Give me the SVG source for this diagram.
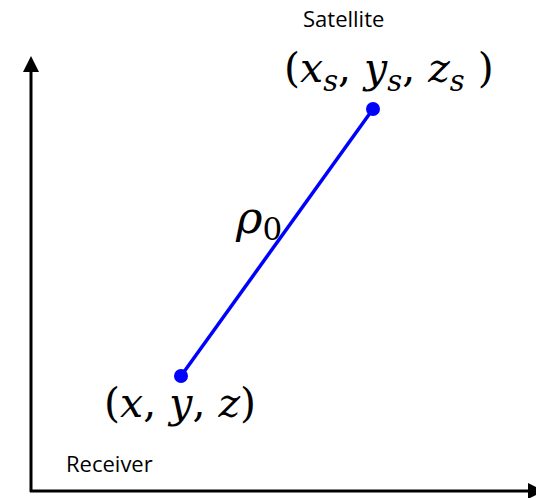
<svg xmlns="http://www.w3.org/2000/svg" width="536" height="498" viewBox="0 0 536 498">
<style>
.lbl{font-family:"Open Sans","Liberation Sans",sans-serif;font-size:22px;fill:#000}
.math{font-family:"DejaVu Serif","Liberation Serif",serif;font-size:41px;fill:#000}
.it{font-style:italic}
.sub{font-size:29px;font-style:italic}
.axis{stroke:#000;stroke-width:3;fill:none}
.link{stroke:#0000ff;stroke-width:3.5;fill:none}
</style>
<rect width="536" height="498" fill="#fff"/>
<g id="axes">
<line class="axis" x1="31" y1="492" x2="31" y2="68"/>
<polygon points="31,56 23,72 39,72" fill="#000"/>
<line class="axis" x1="30" y1="491" x2="530" y2="491"/>
<polygon points="528,483 544,491 528,499" fill="#000"/>
</g>
<g id="connectors">
<line class="link" x1="181" y1="376" x2="373" y2="109"/>
<text class="math" x="236" y="233"><tspan class="it" font-size="45">ρ</tspan><tspan font-size="31" dy="7">0</tspan></text>
</g>
<g id="satellite">
<circle cx="373" cy="109" r="7" fill="#0000ff"/>
<text class="lbl" x="303" y="27">Satellite</text>
<text class="math" x="284" y="82" font-size="42">(<tspan class="it">x</tspan><tspan class="sub" dy="9">s</tspan><tspan dy="-9">, </tspan><tspan class="it">y</tspan><tspan class="sub" dy="9">s</tspan><tspan dy="-9">, </tspan><tspan class="it">z</tspan><tspan class="sub" dy="9">s</tspan><tspan dy="-9"> )</tspan></text>
</g>
<g id="receiver">
<circle cx="181" cy="376" r="7" fill="#0000ff"/>
<text class="math" x="104" y="417">(<tspan class="it">x</tspan>, <tspan class="it">y</tspan>, <tspan class="it">z</tspan>)</text>
<text class="lbl" x="66" y="472">Receiver</text>
</g>
</svg>
